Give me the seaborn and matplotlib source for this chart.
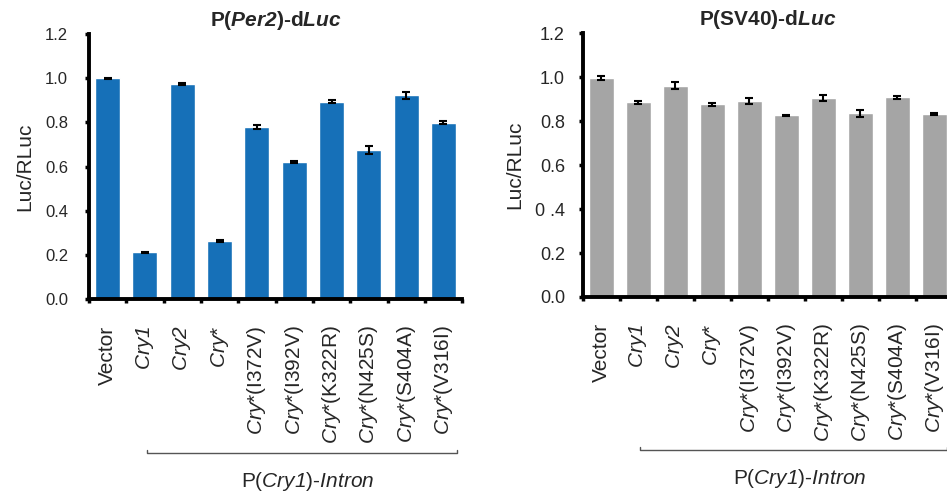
import pandas as pd
import matplotlib
matplotlib.use("Agg")
import matplotlib.pyplot as plt
import seaborn as sns

sns.set_style("white")
plt.rcParams['font.family'] = ['Liberation Sans', 'DejaVu Sans']
plt.rcParams['mathtext.fontset'] = 'custom'
# rm italic too, so digits inside \mathit{} stay italic
plt.rcParams['mathtext.rm'] = 'Liberation Sans:italic'
plt.rcParams['mathtext.it'] = 'Liberation Sans:italic'
plt.rcParams['mathtext.bf'] = 'Liberation Sans:bold'
plt.rcParams['mathtext.bfit'] = 'Liberation Sans:italic:bold'

# categories and tick labels (italic gene names via mathtext)
categories = ['Vector', 'Cry1', 'Cry2', 'Cry*', 'I372V', 'I392V',
              'K322R', 'N425S', 'S404A', 'V316I']
tick_labels = ['Vector', r'$\mathit{Cry1}$', r'$\mathit{Cry2}$', r'$\mathit{Cry}$*',
               r'$\mathit{Cry}$*(I372V)', r'$\mathit{Cry}$*(I392V)',
               r'$\mathit{Cry}$*(K322R)', r'$\mathit{Cry}$*(N425S)',
               r'$\mathit{Cry}$*(S404A)', r'$\mathit{Cry}$*(V316I)']

# P(Per2)-dLuc
per2_vals = [1.000, 0.211, 0.975, 0.263, 0.779, 0.620, 0.893, 0.675, 0.922, 0.799]
per2_err = [0.003, 0.003, 0.005, 0.006, 0.010, 0.005, 0.007, 0.020, 0.015, 0.005]

# P(SV40)-dLuc
sv40_vals = [0.995, 0.885, 0.962, 0.876, 0.891, 0.826, 0.905, 0.835, 0.909, 0.832]
sv40_err = [0.010, 0.005, 0.018, 0.007, 0.015, 0.002, 0.012, 0.015, 0.007, 0.003]

yticks = [0.0, 0.2, 0.4, 0.6, 0.8, 1.0, 1.2]
left_yticklabels = ['0.0', '0.2', '0.4', '0.6', '0.8', '1.0', '1.2']
right_yticklabels = ['0.0', '0.2', '0 .4', '0.6', '0.8', '1.0', '1.2']

fig = plt.figure(figsize=(9.47, 4.93), dpi=100)
ax1 = fig.add_axes([0.094, 0.3935, 0.394, 0.5375])
ax2 = fig.add_axes([0.6156, 0.3976, 0.3907, 0.535])


def draw_panel(ax, vals, errs, color, title, yticklabels, ytick_size, ypad):
    df = pd.DataFrame({'cat': categories, 'val': vals})
    sns.barplot(data=df, x='cat', y='val', color=color, saturation=1,
                width=0.67, errorbar=None, ax=ax)
    ax.errorbar(range(len(vals)), vals, yerr=errs, fmt='none',
                ecolor='black', elinewidth=1.5, capsize=3, capthick=1.5)
    ax.set_xlim(-0.5, len(vals) - 0.5)
    ax.set_ylim(0, 1.2)
    ax.set_yticks(yticks)
    ax.set_yticklabels(yticklabels, fontsize=ytick_size)
    ax.set_xticks(range(len(vals)))
    ax.set_xticklabels(tick_labels, rotation=90, fontsize=15)
    ax.set_xticks([i - 0.5 for i in range(len(vals) + 1)], minor=True)
    ax.tick_params(axis='x', which='major', length=0, pad=19)
    ax.tick_params(axis='x', which='minor', direction='out', length=3, width=2.5,
                   color='black', bottom=True)
    ax.tick_params(axis='y', direction='out', length=3, width=2.5, color='black',
                   left=True, pad=ypad)
    ax.set_xlabel('')
    ax.set_ylabel('Luc/RLuc', fontsize=15, labelpad=8)
    ax.set_title(title, fontsize=15, fontweight='bold', pad=6)
    sns.despine(ax=ax)
    for side in ['left', 'bottom']:
        ax.spines[side].set_linewidth(2.8)
        ax.spines[side].set_color('black')

    # bracket under the Cry1 promoter constructs
    trans = ax.get_xaxis_transform()
    y0 = -0.58
    ax.plot([1.05, 1.05, 9.35, 9.35], [y0 + 0.01, y0, y0, y0 + 0.01],
            color='#555555', lw=1, transform=trans, clip_on=False)
    ax.text(5.35, y0 - 0.065, r'P($\mathit{Cry1}$)-$\mathit{Intron}$',
            ha='center', va='top', fontsize=15, transform=trans)


draw_panel(ax1, per2_vals, per2_err, '#1670B8',
           r'P($\mathbfit{Per2}$)-d$\mathbfit{Luc}$', left_yticklabels, 12, 12)
draw_panel(ax2, sv40_vals, sv40_err, '#A5A5A5',
           r'P(SV40)-d$\mathbfit{Luc}$', right_yticklabels, 13, 10)

fig.savefig('out.png', dpi=100)
